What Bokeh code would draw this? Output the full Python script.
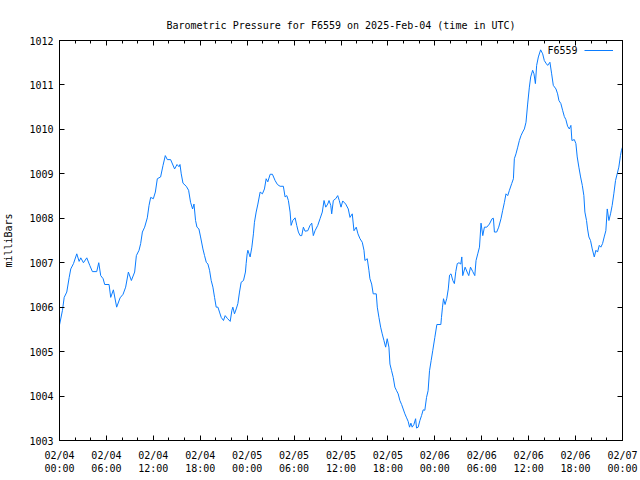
from bokeh.plotting import figure
from bokeh.models import (LinearAxis, FixedTicker, Range1d, Legend, LegendItem, Label,
                          CustomJSTickFormatter)
from bokeh.embed import file_html
from bokeh.resources import INLINE

title_text = "Barometric Pressure for F6559 on 2025-Feb-04 (time in UTC)"
y_label = "milliBars"
series_name = "F6559"

# hours since 2025-02-04 00:00 UTC
hours = [0.0, 0.38, 0.6, 0.93, 1.24, 1.44, 1.79, 2.21, 2.51, 2.72, 3.06, 3.49, 3.87, 4.21, 4.76,
         5.02, 5.27, 5.58, 5.78, 6.34, 6.55, 6.89, 7.31, 7.75, 8.13, 8.46, 8.81, 9.19, 9.61, 9.83,
         10.17, 10.38, 10.6, 10.89, 11.23, 11.45, 11.66, 12.0, 12.26, 12.51, 12.93, 13.24, 13.53,
         13.79, 14.21, 14.72, 15.03, 15.28, 15.41, 15.57, 15.79, 16.21, 16.51, 16.76, 17.02, 17.2,
         17.4, 17.58, 17.83, 18.04, 18.34, 18.55, 18.77, 18.98, 19.19, 19.4, 19.62, 19.83, 20.04,
         20.26, 20.46, 20.68, 20.97, 21.19, 21.45, 21.83, 22.05, 22.17, 22.38, 22.6, 22.81, 23.02,
         23.23, 23.53, 23.78, 23.87, 24.0, 24.09, 24.38, 24.6, 24.8, 24.93, 25.15, 25.37, 25.66,
         25.95, 26.21, 26.43, 26.64, 26.94, 27.23, 27.57, 27.87, 28.21, 28.63, 28.85, 29.07, 29.27,
         29.49, 29.62, 29.83, 30.13, 30.34, 30.55, 30.77, 30.98, 31.19, 31.4, 31.75, 32.04, 32.26,
         32.46, 32.68, 33.03, 33.32, 33.61, 33.83, 34.05, 34.3, 34.47, 34.69, 34.81, 35.02, 35.32,
         35.58, 35.78, 36.0, 36.22, 36.6, 36.93, 37.15, 37.44, 37.66, 37.95, 38.17, 38.43, 38.72,
         38.94, 39.06, 39.36, 39.57, 39.7, 39.92, 40.12, 40.51, 40.64, 40.85, 41.07, 41.27, 41.49,
         41.71, 41.91, 42.13, 42.26, 42.47, 42.68, 42.89, 43.11, 43.31, 43.53, 43.75, 43.95, 44.17,
         44.39, 44.59, 44.77, 44.94, 45.1, 45.32, 45.54, 45.66, 45.87, 46.09, 46.3, 46.51, 46.72,
         46.94, 47.14, 47.32, 47.53, 47.74, 48.0, 48.26, 48.77, 48.85, 48.98, 49.11, 49.31, 49.53,
         49.72, 49.88, 50.07, 50.3, 50.5, 50.68, 50.87, 51.09, 51.32, 51.45, 51.57, 51.87, 52.13,
         52.34, 52.56, 52.85, 53.11, 53.27, 53.49, 53.71, 53.91, 54.13, 54.34, 54.64, 54.98, 55.32,
         55.49, 55.62, 55.91, 56.17, 56.46, 56.68, 56.9, 57.1, 57.32, 57.54, 57.83, 58.05, 58.17,
         58.38, 58.6, 58.81, 59.02, 59.23, 59.45, 59.66, 59.87, 60.09, 60.26, 60.51, 60.68, 60.86,
         61.02, 61.24, 61.53, 61.79, 62.0, 62.21, 62.43, 62.72, 62.94, 63.15, 63.49, 63.7, 63.87,
         64.12, 64.34, 64.56, 64.76, 64.98, 65.2, 65.4, 65.53, 65.84, 66.04, 66.21, 66.42, 66.64,
         66.86, 67.06, 67.19, 67.4, 67.53, 67.7, 67.91, 68.13, 68.39, 68.6, 68.81, 69.03, 69.23,
         69.45, 69.66, 69.87, 70.05, 70.26, 70.47, 70.68, 70.89, 71.11, 71.32, 71.53, 71.74, 71.87,
         72.0]

mbar = [1005.6, 1005.93, 1006.22, 1006.34, 1006.67, 1006.86, 1006.98, 1007.2, 1007.03, 1007.11,
        1007.0, 1007.11, 1006.94, 1006.8, 1006.8, 1007.0, 1006.71, 1006.64, 1006.51, 1006.51,
        1006.22, 1006.39, 1006.0, 1006.21, 1006.29, 1006.45, 1006.79, 1006.6, 1006.79, 1007.16,
        1007.28, 1007.43, 1007.69, 1007.8, 1008.01, 1008.29, 1008.47, 1008.44, 1008.59, 1008.89,
        1008.93, 1009.19, 1009.41, 1009.32, 1009.32, 1009.11, 1009.21, 1009.16, 1009.21, 1009.0,
        1008.79, 1008.72, 1008.63, 1008.36, 1008.21, 1008.32, 1007.95, 1007.8, 1007.76, 1007.58,
        1007.31, 1007.16, 1007.01, 1006.97, 1006.83, 1006.6, 1006.45, 1006.22, 1006.0, 1006.0,
        1005.89, 1005.77, 1005.7, 1005.81, 1005.75, 1005.68, 1005.93, 1006.0, 1005.85, 1005.96,
        1006.08, 1006.34, 1006.56, 1006.6, 1006.79, 1006.98, 1007.2, 1007.28, 1007.13, 1007.35,
        1007.65, 1007.91, 1008.14, 1008.32, 1008.59, 1008.55, 1008.66, 1008.89, 1008.82, 1008.99,
        1008.99, 1008.85, 1008.76, 1008.72, 1008.72, 1008.48, 1008.51, 1008.4, 1008.14, 1007.84,
        1007.95, 1008.01, 1007.84, 1007.69, 1007.61, 1007.61, 1007.8, 1007.71, 1007.72, 1007.84,
        1007.89, 1007.61, 1007.72, 1007.84, 1007.99, 1008.14, 1008.4, 1008.25, 1008.32, 1008.4,
        1008.29, 1008.1, 1008.4, 1008.44, 1008.51, 1008.4, 1008.25, 1008.39, 1008.32, 1008.21,
        1008.02, 1008.1, 1007.72, 1007.8, 1007.65, 1007.54, 1007.46, 1007.28, 1007.05, 1007.09,
        1006.83, 1006.64, 1006.52, 1006.3, 1006.3, 1006.0, 1005.77, 1005.55, 1005.4, 1005.25,
        1005.1, 1005.29, 1005.1, 1004.72, 1004.57, 1004.42, 1004.2, 1004.12, 1004.05, 1003.9,
        1003.81, 1003.71, 1003.6, 1003.51, 1003.43, 1003.3, 1003.39, 1003.3, 1003.36, 1003.49,
        1003.28, 1003.3, 1003.45, 1003.56, 1003.69, 1003.68, 1003.97, 1004.12, 1004.57, 1004.8,
        1005.03, 1005.32, 1005.61, 1005.61, 1005.77, 1006.0, 1006.19, 1006.06, 1006.2, 1006.41,
        1006.72, 1006.75, 1006.6, 1006.53, 1006.8, 1006.98, 1007.0, 1006.97, 1007.13, 1006.71,
        1006.9, 1006.79, 1006.71, 1006.9, 1006.8, 1006.71, 1007.05, 1007.2, 1007.35, 1007.89,
        1007.61, 1007.8, 1007.8, 1007.87, 1007.99, 1008.0, 1007.69, 1007.69, 1007.8, 1007.99,
        1008.18, 1008.36, 1008.55, 1008.51, 1008.63, 1008.78, 1008.89, 1009.34, 1009.45, 1009.6,
        1009.75, 1009.86, 1009.94, 1010.01, 1010.16, 1010.57, 1010.95, 1011.18, 1011.33, 1011.25,
        1011.03, 1011.44, 1011.63, 1011.79, 1011.7, 1011.55, 1011.49, 1011.44, 1011.51, 1011.25,
        1010.99, 1010.91, 1010.8, 1010.65, 1010.58, 1010.43, 1010.29, 1010.22, 1010.07, 1010.01,
        1010.09, 1009.75, 1009.77, 1009.68, 1009.38, 1009.15, 1008.93, 1008.74, 1008.51, 1008.14,
        1007.95, 1007.76, 1007.58, 1007.5, 1007.31, 1007.13, 1007.28, 1007.24, 1007.39, 1007.35,
        1007.43, 1007.58, 1007.72, 1008.21, 1007.95, 1008.1, 1008.29, 1008.55, 1008.85, 1009.0,
        1009.15, 1009.41, 1009.53, 1009.6]

x_ticks = [0, 6, 12, 18, 24, 30, 36, 42, 48, 54, 60, 66, 72]
x_minor_ticks = list(range(0, 73, 2))
x_tick_labels = ["02/04\n00:00", "02/04\n06:00", "02/04\n12:00", "02/04\n18:00",
                 "02/05\n00:00", "02/05\n06:00", "02/05\n12:00", "02/05\n18:00",
                 "02/06\n00:00", "02/06\n06:00", "02/06\n12:00", "02/06\n18:00",
                 "02/07\n00:00"]
y_ticks = [1003, 1004, 1005, 1006, 1007, 1008, 1009, 1010, 1011, 1012]

FONT = "DejaVu Sans Mono"
FS = "10px"
LINE_COLOR = "#0a7cff"

p = figure(width=640, height=480, output_backend="svg", toolbar_location=None,
           x_range=Range1d(0, 72), y_range=Range1d(1003, 1012),
           x_axis_type=None, y_axis_type=None,
           min_border_left=58, min_border_right=18, min_border_top=40, min_border_bottom=40)
p.xgrid.visible = False
p.ygrid.visible = False
p.outline_line_color = "black"
p.outline_line_width = 1
p.background_fill_color = "white"
p.border_fill_color = "white"

p.title.text = title_text
p.title.align = "center"
p.title.text_font = FONT
p.title.text_font_size = FS
p.title.text_font_style = "normal"
p.title.text_color = "black"
p.title.standoff = 20


def style_axis(ax, show_labels):
    ax.axis_line_color = "black"
    ax.major_tick_line_color = "black"
    ax.minor_tick_line_color = "black"
    ax.major_tick_in = 5
    ax.major_tick_out = 0
    ax.minor_tick_in = 3
    ax.minor_tick_out = 0
    ax.major_label_text_font = FONT
    ax.major_label_text_color = "black"
    ax.major_label_text_font_size = FS
    if not show_labels:
        ax.formatter = CustomJSTickFormatter(code="return '';")
        ax.major_label_standoff = 0


xb = LinearAxis(ticker=FixedTicker(ticks=x_ticks, minor_ticks=x_minor_ticks))
xb.major_label_overrides = {t: lab for t, lab in zip(x_ticks, x_tick_labels)}
style_axis(xb, True)
xb.major_label_standoff = 9
p.add_layout(xb, "below")

xt = LinearAxis(ticker=FixedTicker(ticks=x_ticks, minor_ticks=x_minor_ticks))
style_axis(xt, False)
p.add_layout(xt, "above")

yl = LinearAxis(ticker=FixedTicker(ticks=y_ticks, minor_ticks=[]), axis_label=y_label)
style_axis(yl, True)
yl.major_label_standoff = 6
yl.axis_label_text_font = FONT
yl.axis_label_text_font_size = FS
yl.axis_label_text_font_style = "normal"
yl.axis_label_text_color = "black"
yl.axis_label_standoff = 12
p.add_layout(yl, "left")

yr = LinearAxis(ticker=FixedTicker(ticks=y_ticks, minor_ticks=[]))
style_axis(yr, False)
p.add_layout(yr, "right")

r = p.line(hours, mbar, line_color=LINE_COLOR, line_width=1)

legend = Legend(items=[LegendItem(label=" ", renderers=[r])], location=(525, 380),
                glyph_width=29, glyph_height=20, label_width=0, label_standoff=0,
                padding=0, spacing=0, margin=0, border_line_color=None,
                background_fill_alpha=0, label_text_font=FONT, label_text_font_size=FS)
p.add_layout(legend, "center")

p.add_layout(Label(x=518, y=390, x_units="screen", y_units="screen", text=series_name,
                   text_align="right", text_baseline="middle", text_font=FONT,
                   text_font_size=FS, text_color="black"))

open("out.html", "w").write(file_html(p, INLINE))
